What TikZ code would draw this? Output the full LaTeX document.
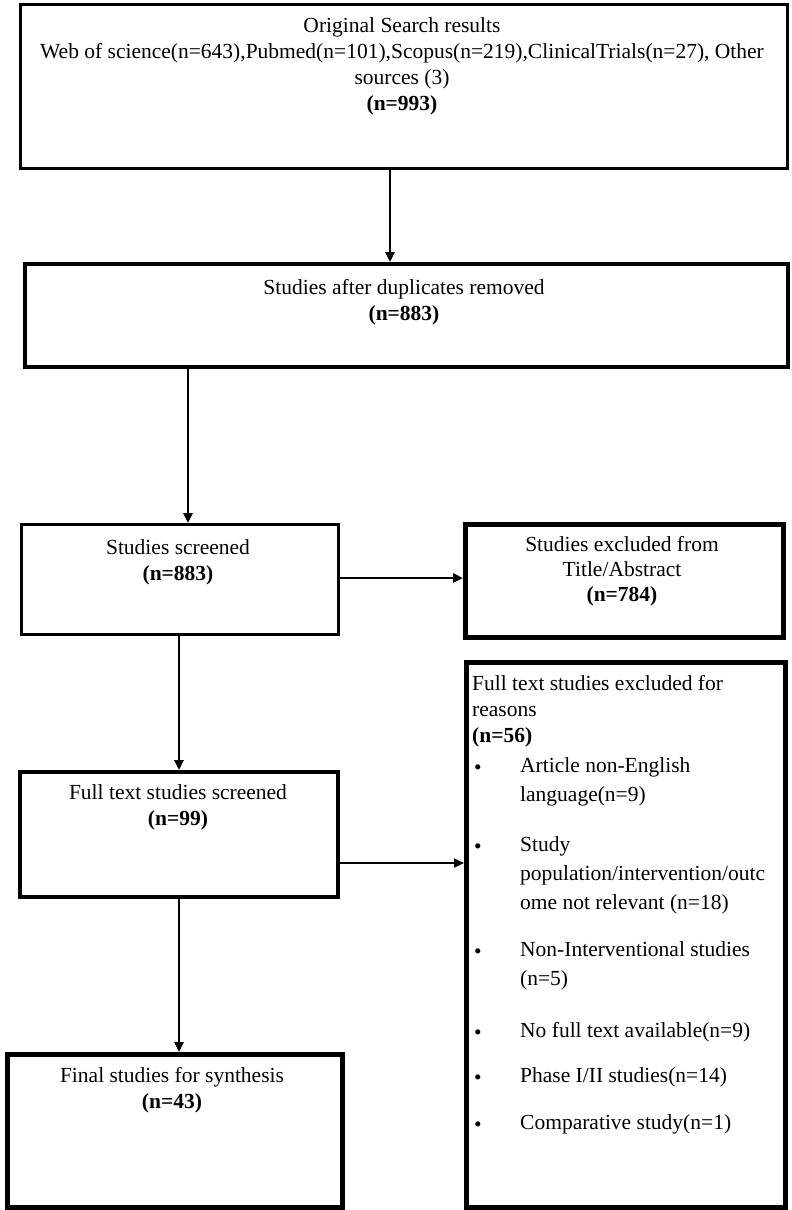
\documentclass[tikz,border=0pt]{standalone}
\usepackage{fontspec}
\setmainfont{Liberation Serif}
\usetikzlibrary{arrows.meta}
\begin{document}
\begin{tikzpicture}[x=1pt,y=-1pt,
  box/.style={draw, rectangle, inner sep=0pt, anchor=north west},
  txt/.style={font=\fontsize{21.5}{26}\selectfont, inner sep=0pt, align=center, anchor=north},
  lefttxt/.style={font=\fontsize{21.5}{26}\selectfont, inner sep=0pt, align=left, anchor=north west},
  itemtxt/.style={font=\fontsize{21.5}{29}\selectfont, inner sep=0pt, align=left, anchor=north west},
  bul/.style={font=\fontsize{21.5}{26}\selectfont, inner sep=0pt, anchor=base},
  arr/.style={-{Triangle[length=10pt,width=9pt]}, line width=2.8pt}]
\useasboundingbox (0,0) rectangle (792,1210);

% boxes
\node[box, line width=3pt, minimum width=767pt, minimum height=164pt] (b1) at (19,3) {};
\node[box, line width=3.5pt, minimum width=763pt, minimum height=103pt] (b2) at (23,262) {};
\node[box, line width=2.5pt, minimum width=317pt, minimum height=110pt] (b3) at (20,523) {};
\node[box, line width=5pt, minimum width=318pt, minimum height=113pt] (b4) at (463,522) {};
\node[box, line width=4pt, minimum width=318pt, minimum height=125pt] (b5) at (18,770) {};
\node[box, line width=5pt, minimum width=319pt, minimum height=545pt] (b6) at (464,660) {};
\node[box, line width=5pt, minimum width=335pt, minimum height=153pt] (b7) at (5,1052) {};

% texts
\node[txt] (t1) at (402,14) {\strut Original Search results\\
  Web of science(n=643),Pubmed(n=101),Scopus(n=219),ClinicalTrials(n=27), Other\\
  sources (3)\\ \textbf{(n=993)}};
\node[txt] (t2) at (404,276) {\strut Studies after duplicates removed\\ \textbf{(n=883)}};
\node[txt] (t3) at (178,536) {\strut Studies screened\\ \textbf{(n=883)}};
\node[txt, font=\fontsize{21.5}{25}\selectfont] (t4) at (622,534) {\strut Studies excluded from\\ Title/Abstract\\ \textbf{(n=784)}};
\node[txt] (t5) at (178,781) {\strut Full text studies screened\\ \textbf{(n=99)}};
\node[txt] (t7) at (172,1064) {\strut Final studies for synthesis\\ \textbf{(n=43)}};

\node[lefttxt] (h6) at (472,672) {\strut Full text studies excluded for\\ reasons\\ \textbf{(n=56)}};
\node[itemtxt] (i1) at (520,752) {\strut Article non-English\\ language(n=9)};
\node[itemtxt] (i2) at (520,831) {\strut Study\\ population/intervention/outc\\ ome not relevant (n=18)};
\node[itemtxt] (i3) at (520,936) {\strut Non-Interventional studies\\ (n=5)};
\node[itemtxt] (i4) at (520,1017) {\strut No full text available(n=9)};
\node[itemtxt] (i5) at (520,1062) {\strut Phase I/II studies(n=14)};
\node[itemtxt] (i6) at (520,1109) {\strut Comparative study(n=1)};
\foreach \y/\n in {763/1,842/2,947/3,1028/4,1073/5,1120/6}
  \node[bul] (u\n) at (478,\y+11) {•};

% connectors
\coordinate (x1) at (390,0);
\coordinate (x2) at (188,0);
\coordinate (x4) at (179,0);
\coordinate (y3) at (0,578);
\coordinate (y5) at (0,863);
\draw[arr] (b1.south -| x1) -- (b2.north -| x1);
\draw[arr] (b2.south -| x2) -- (b3.north -| x2);
\draw[arr] (b3.east |- y3) -- (b4.west |- y3);
\draw[arr] (b3.south -| x4) -- (b5.north -| x4);
\draw[arr, line width=2.2pt] (b5.east |- y5) -- (b6.west |- y5);
\draw[arr] (b5.south -| x4) -- (b7.north -| x4);
\end{tikzpicture}
\end{document}
